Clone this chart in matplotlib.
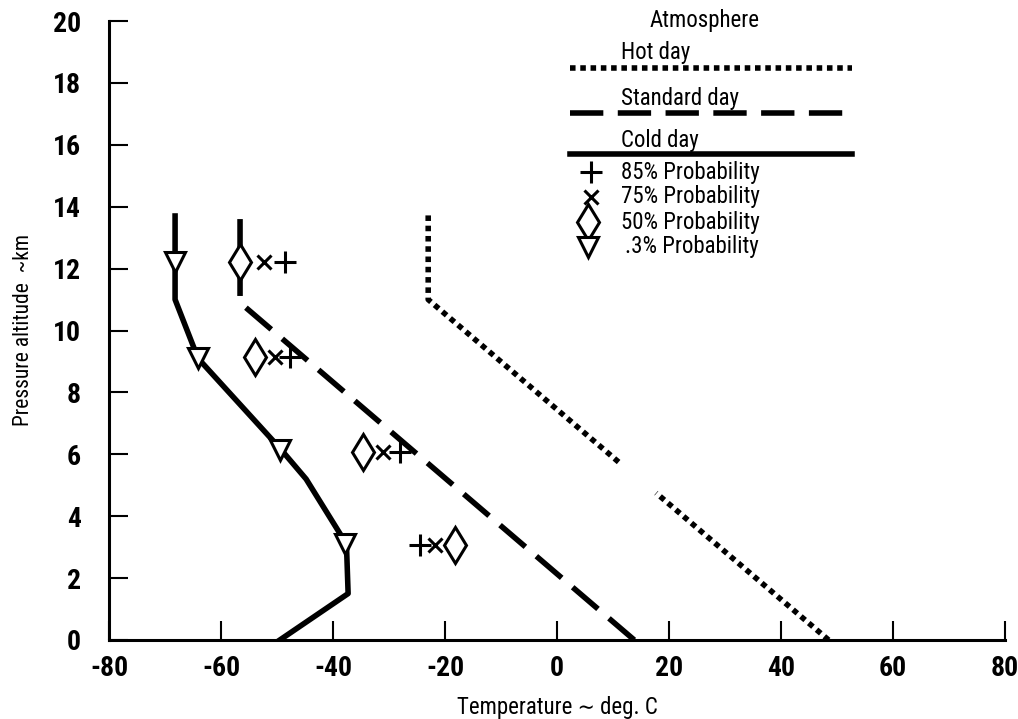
import matplotlib
matplotlib.use("Agg")
import matplotlib.pyplot as plt
from matplotlib.lines import Line2D
from matplotlib import font_manager as fm

# ---------------- data ----------------
cold_T = [-49.5, -37.3, -37.6, -44.8, -49.5, -64.1, -68.2, -68.2]
cold_alt = [0.0, 1.5, 3.1, 5.2, 6.2, 9.1, 11.0, 13.7]

std_T = [13.8, -56.6, -56.6]
std_alt = [0.0, 10.9, 13.6]

hot_lo_T = [48.5, 17.7]
hot_lo_alt = [0.0, 4.75]
hot_hi_T = [11.0, -23.0, -23.0]
hot_hi_alt = [5.75, 11.0, 13.8]

p85_T = [-48.6, -47.7, -28.1, -24.5]
p85_alt = [12.2, 9.15, 6.08, 3.07]
p75_T = [-52.4, -50.4, -31.1, -21.8]
p75_alt = [12.2, 9.15, 6.08, 3.07]
p50_T = [-56.6, -54.0, -34.6, -18.3]
p50_alt = [12.2, 9.15, 6.08, 3.07]
p03_T = [-37.9, -49.5, -64.1, -68.2]
p03_alt = [3.1, 6.15, 9.1, 12.2]

xticks = [-80, -60, -40, -20, 0, 20, 40, 60, 80]
xticklabels = ["-80", "-60", "-40", "-20", "0", "20", "40", "60", "80"]
yticks = [0, 2, 4, 6, 8, 10, 12, 14, 16, 18, 20]

legend_lines = ["Hot day", "Standard day", "Cold day"]
legend_markers = ["85% Probability", "75% Probability", "50% Probability", ".3% Probability"]

# ---------------- style ----------------
names = {f.name for f in fm.fontManager.ttflist}
cands = [n for n in ["Liberation Sans Narrow", "Roboto Condensed", "Open Sans Condensed",
                     "DejaVu Sans"] if n in names]
FAM = cands + ["DejaVu Sans"]
plt.rcParams["font.family"] = FAM
plt.rcParams["font.stretch"] = "condensed"

W, H = 1018, 719
fig = plt.figure(figsize=(W / 100, H / 100), dpi=100)

def fx(px):
    return px / W

def fy(py):
    return 1 - py / H

ax = fig.add_axes([fx(109), fy(640), fx(1005) - fx(109), fy(21) - fy(640)])
ax.set_xlim(-80, 80)
ax.set_ylim(0, 20)
for s in ["top", "right"]:
    ax.spines[s].set_visible(False)
for s in ["left", "bottom"]:
    ax.spines[s].set_linewidth(2.2)
ax.set_xticks(xticks)
ax.set_xticklabels(xticklabels)
ax.set_yticks(yticks)
ax.tick_params(direction="in", length=14, width=1.5, labelsize=20)
ax.tick_params(axis="x", pad=11)
ax.tick_params(axis="y", pad=20)
for lab in ax.get_xticklabels() + ax.get_yticklabels():
    lab.set_fontweight("bold")

LW = 4.0
ax.plot(cold_T, cold_alt, color="black", lw=LW, solid_joinstyle="round", zorder=2)
ax.plot(std_T, std_alt, color="black", lw=LW, dashes=(6.0, 2.6), dash_capstyle="butt", zorder=2)
ax.plot(hot_lo_T, hot_lo_alt, color="black", lw=LW, dashes=(1.0, 0.85), dash_capstyle="butt", zorder=2)
ax.plot(hot_hi_T, hot_hi_alt, color="black", lw=LW, dashes=(1.0, 0.85), dash_capstyle="butt", zorder=2)

ax.plot(p85_T, p85_alt, ls="none", marker="+", ms=16, mew=2.2, color="black", zorder=3)
ax.plot(p75_T, p75_alt, ls="none", marker="x", ms=10, mew=2.2, color="black", zorder=3)
ax.plot(p50_T, p50_alt, ls="none", marker="d", ms=18, mew=2.2, mfc="white", mec="black", zorder=3)
ax.plot(p03_T, p03_alt, ls="none", marker="v", ms=15, mew=2.2, mfc="white", mec="black", zorder=3)

ax.set_xlabel("Temperature \u223c deg. C", fontsize=16.5, labelpad=10)
ax.set_ylabel("Pressure altitude  ~km", fontsize=15.5, labelpad=14)

# ---------------- legend (drawn manually) ----------------
FS = 16.5
fig.text(fx(705), fy(21), "Atmosphere", fontsize=FS, ha="center", va="center")
text_y = [52, 98, 140]
line_y = [68, 113, 154]
styles = [dict(dashes=(1.0, 0.85), dash_capstyle="butt"),
          dict(dashes=(6.0, 2.6), dash_capstyle="butt"),
          dict()]
for lab, ty, ly, st in zip(legend_lines, text_y, line_y, styles):
    fig.text(fx(621), fy(ty), lab, fontsize=FS, ha="left", va="center")
    fig.add_artist(Line2D([fx(570), fx(852)], [fy(ly), fy(ly)], color="black", lw=LW,
                          transform=fig.transFigure, **st))

mk_y = [172, 197, 222, 247]
mk_x = [591, 591, 588, 588]
mk_style = [dict(marker="+", ms=16, mew=2.2, color="black"),
            dict(marker="x", ms=10, mew=2.2, color="black"),
            dict(marker="d", ms=18, mew=2.2, mfc="white", mec="black"),
            dict(marker="v", ms=15, mew=2.2, mfc="white", mec="black")]
txt_x = [621, 621, 621, 625]
for lab, my, mx, st, tx in zip(legend_markers, mk_y, mk_x, mk_style, txt_x):
    fig.add_artist(Line2D([fx(mx)], [fy(my)], ls="none", transform=fig.transFigure, **st))
    fig.text(fx(tx), fy(my), lab, fontsize=FS, ha="left", va="center")

fig.savefig("out.png", dpi=100)
